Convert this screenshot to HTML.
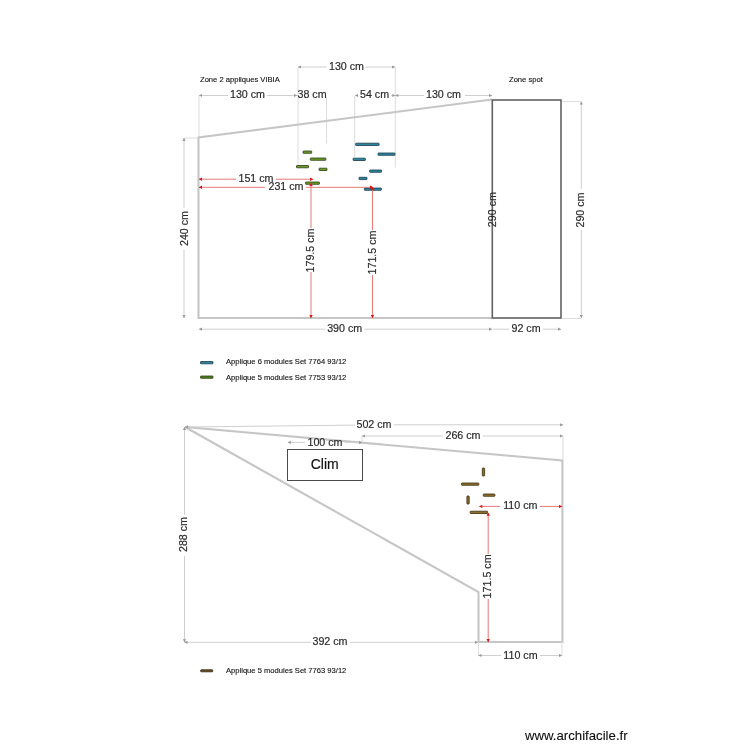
<!DOCTYPE html>
<html><head><meta charset="utf-8">
<style>
html,body{margin:0;padding:0;background:#fff;width:750px;height:750px;overflow:hidden}
svg{display:block;will-change:transform}
text{font-family:"Liberation Sans",sans-serif;fill:#2a2a2a}
.d{font-size:10.7px;stroke:#2a2a2a;stroke-width:0.18}
.s{font-size:7.6px;fill:#111;stroke:#111;stroke-width:0.12}
.wall{stroke:#c6c6c6;stroke-width:2.1;fill:none;stroke-linejoin:miter}
.dim{stroke:#cfcfcf;stroke-width:1;fill:none}
.ext{stroke:#dcdcdc;stroke-width:1;fill:none}
.red{stroke:#e46a6a;stroke-width:0.9;fill:none}
</style></head>
<body>
<svg width="750" height="750" viewBox="0 0 750 750">
<defs>
<marker id="ag" markerWidth="4" markerHeight="4" refX="3" refY="2" orient="auto" markerUnits="userSpaceOnUse"><path d="M0,0.4 L3.2,2 L0,3.6 z" fill="#9a9a9a"/></marker>
<marker id="ags" markerWidth="4" markerHeight="4" refX="0.2" refY="2" orient="auto" markerUnits="userSpaceOnUse"><path d="M3.2,0.4 L0,2 L3.2,3.6 z" fill="#9a9a9a"/></marker>
<marker id="ar" markerWidth="4" markerHeight="4" refX="3" refY="2" orient="auto" markerUnits="userSpaceOnUse"><path d="M0,0.3 L3.2,2 L0,3.7 z" fill="#d81818"/></marker>
<marker id="ars" markerWidth="4" markerHeight="4" refX="0.2" refY="2" orient="auto" markerUnits="userSpaceOnUse"><path d="M3.2,0.3 L0,2 L3.2,3.7 z" fill="#d81818"/></marker>
</defs>

<!-- ===== TOP PLAN ===== -->
<text class="s" x="200" y="81.6">Zone 2 appliques VIBIA</text>
<text class="s" x="509" y="81.6">Zone spot</text>

<!-- extension lines -->
<path class="ext" d="M199,95 V137 M298,67 V167 M326.5,97 V143.5 M354.7,96 V157 M395.3,67 V167.5 M184,138 H199 M562,101.6 H581 M562,318.5 H581"/>

<!-- top dim row 1: 130 cm -->
<path class="dim" d="M298,67 H327" marker-start="url(#ags)"/>
<path class="dim" d="M365,67 H395" marker-end="url(#ag)"/>
<text class="d" x="346.5" y="70" text-anchor="middle">130 cm</text>

<!-- row 2 -->
<path class="dim" d="M199,95.5 H228" marker-start="url(#ags)"/>
<path class="dim" d="M267,95.5 H297" marker-end="url(#ag)"/>
<text class="d" x="247.5" y="97.8" text-anchor="middle">130 cm</text>
<text class="d" x="297.5" y="97.9">38 cm</text>
<path class="dim" d="M355,95.5 H358" marker-start="url(#ags)"/>
<text class="d" x="374.5" y="98.2" text-anchor="middle">54 cm</text>
<path class="dim" d="M391,95.5 H395.3" marker-end="url(#ag)"/>
<path class="dim" d="M395.3,95.5 H424" marker-start="url(#ags)"/>
<path class="dim" d="M465,95.5 H492" marker-end="url(#ag)"/>
<text class="d" x="443.5" y="97.8" text-anchor="middle">130 cm</text>

<!-- walls -->
<path class="wall" d="M492,99.5 L198.5,137.5 V318 H492"/>
<rect x="492.3" y="100" width="68.7" height="218" fill="none" stroke="#626262" stroke-width="1.6"/>

<!-- 240 cm -->
<path class="dim" d="M184,138 V208" marker-start="url(#ags)"/>
<path class="dim" d="M184,250 V318" marker-end="url(#ag)"/>
<text class="d" transform="translate(187.5,228.5) rotate(-90)" text-anchor="middle">240 cm</text>

<!-- 290 cm inside -->
<text class="d" transform="translate(495.6,209.6) rotate(-90)" text-anchor="middle">290 cm</text>
<!-- 290 cm right -->
<path class="dim" d="M581.3,101.6 V189" marker-start="url(#ags)"/>
<path class="dim" d="M581.3,230 V318" marker-end="url(#ag)"/>
<text class="d" transform="translate(584,210) rotate(-90)" text-anchor="middle">290 cm</text>

<!-- 390 cm / 92 cm -->
<path class="dim" d="M199,329.2 H325" marker-start="url(#ags)"/>
<path class="dim" d="M364.5,329.2 H492" marker-end="url(#ag)"/>
<text class="d" x="344.7" y="332.2" text-anchor="middle">390 cm</text>
<path class="dim" d="M493,329.2 H509"/>
<path class="dim" d="M543,329.2 H561" marker-end="url(#ag)"/>
<text class="d" x="526" y="332.4" text-anchor="middle">92 cm</text>

<!-- green lamps -->
<g fill="#6c9a2c" stroke="#2a3f10" stroke-width="0.8">
<rect x="303" y="151" width="8.7" height="2.3" rx="0.5"/>
<rect x="310.3" y="158" width="15.6" height="2.3" rx="0.5"/>
<rect x="296.5" y="165.5" width="12" height="2.3" rx="0.5"/>
<rect x="319" y="168.2" width="8" height="2.3" rx="0.5"/>
<rect x="305.5" y="182" width="14" height="2.3" rx="0.5"/>
</g>
<!-- blue lamps -->
<g fill="#2f88a2" stroke="#173845" stroke-width="0.8">
<rect x="355.7" y="143.2" width="23.4" height="2.3" rx="0.5"/>
<rect x="378" y="153" width="17" height="2.3" rx="0.5"/>
<rect x="353.1" y="158.2" width="12.3" height="2.3" rx="0.5"/>
<rect x="369.6" y="170" width="12" height="2.3" rx="0.5"/>
<rect x="359" y="177.3" width="8" height="2.3" rx="0.5"/>
<rect x="364.4" y="188" width="17" height="2.3" rx="0.5"/>
</g>

<!-- red dims top -->
<path class="red" d="M199,179.2 H236" marker-start="url(#ars)"/>
<path class="red" d="M276,179.2 H313" marker-end="url(#ar)"/>
<text class="d" x="256" y="182.4" text-anchor="middle">151 cm</text>
<path class="red" d="M199,187.3 H265" marker-start="url(#ars)"/>
<path class="red" d="M306,187.3 H373" marker-end="url(#ar)"/>
<text class="d" x="286" y="190.2" text-anchor="middle">231 cm</text>
<path class="red" d="M311,183 V228" marker-start="url(#ars)"/>
<path class="red" d="M311,272 V318" marker-end="url(#ar)"/>
<text class="d" transform="translate(314,250.5) rotate(-90)" text-anchor="middle">179.5 cm</text>
<path class="red" d="M372.5,187 V230" marker-start="url(#ars)"/>
<path class="red" d="M372.5,275 V318" marker-end="url(#ar)"/>
<text class="d" transform="translate(376,252.5) rotate(-90)" text-anchor="middle">171.5 cm</text>

<!-- legend top -->
<g stroke-width="0.8">
<rect x="200.5" y="361.5" width="12.5" height="2.3" rx="0.5" fill="#2f88a2" stroke="#173845"/>
<rect x="200.5" y="376" width="12.5" height="2.3" rx="0.5" fill="#527d22" stroke="#2a3f10"/>
</g>
<text class="s" x="226" y="363.6">Applique 6 modules Set 7764 93/12</text>
<text class="s" x="226" y="379.6">Applique 5 modules Set 7753 93/12</text>

<!-- ===== BOTTOM PLAN ===== -->
<!-- walls -->
<path class="wall" d="M185,427 L562.4,460.5 V642 H478.5 V592 Z"/>
<!-- dims -->
<path class="ext" d="M563,436 V460 M362,436 V442"/>
<path class="dim" d="M185,427 L355,425.1" marker-start="url(#ags)"/>
<path class="dim" d="M394,424.8 H563" marker-end="url(#ag)"/>
<text class="d" x="374" y="427.7" text-anchor="middle">502 cm</text>
<path class="dim" d="M362,436 H443" marker-start="url(#ags)"/>
<path class="dim" d="M483,436 H563" marker-end="url(#ag)"/>
<text class="d" x="463" y="439.3" text-anchor="middle">266 cm</text>
<path class="dim" d="M287.8,442.4 H305" marker-start="url(#ags)"/>
<path class="dim" d="M345,442.4 H362" marker-end="url(#ag)"/>
<text class="d" x="325" y="445.5" text-anchor="middle">100 cm</text>


<!-- clim -->
<rect x="287.5" y="449.5" width="75" height="31" fill="#fff" stroke="#4a4a4a" stroke-width="1"/>
<text x="324.7" y="468.8" text-anchor="middle" style="font-size:14px;fill:#111;stroke:#111;stroke-width:0.15">Clim</text>

<!-- 288 -->
<path class="dim" d="M184.5,427 V515" marker-start="url(#ags)"/>
<path class="dim" d="M184.5,556 V642.3" marker-end="url(#ag)"/>
<text class="d" transform="translate(187.4,534.5) rotate(-90)" text-anchor="middle">288 cm</text>

<!-- 392 -->
<path class="dim" d="M184.5,642.3 H311" marker-start="url(#ags)"/>
<path class="dim" d="M350,642.3 H478" marker-end="url(#ag)"/>
<text class="d" x="330" y="644.8" text-anchor="middle">392 cm</text>
<!-- 110 bottom -->
<path class="ext" d="M478.5,642 V656 M562,642 V656"/>
<path class="dim" d="M478.5,655.5 H501" marker-start="url(#ags)"/>
<path class="dim" d="M540,655.5 H562" marker-end="url(#ag)"/>
<text class="d" x="520.5" y="658.6" text-anchor="middle">110 cm</text>

<!-- brown lamps -->
<g fill="#8d7030" stroke="#3a2c0a" stroke-width="0.8">
<rect x="482.3" y="468" width="2.3" height="8" rx="0.5"/>
<rect x="461.5" y="483" width="17.3" height="2.3" rx="0.5"/>
<rect x="483.3" y="494" width="11.6" height="2.3" rx="0.5"/>
<rect x="466.9" y="496" width="2.3" height="8" rx="0.5"/>
<rect x="470.2" y="511.2" width="17.4" height="2.3" rx="0.5"/>
</g>

<!-- red bottom -->
<path class="red" d="M479.3,506.4 H500" marker-start="url(#ars)"/>
<path class="red" d="M540,506.4 H562" marker-end="url(#ar)"/>
<text class="d" x="520.3" y="508.8" text-anchor="middle">110 cm</text>
<path class="red" d="M488.2,512.8 V554" marker-start="url(#ars)"/>
<path class="red" d="M488.2,599 V642" marker-end="url(#ar)"/>
<text class="d" transform="translate(491,576.4) rotate(-90)" text-anchor="middle">171.5 cm</text>

<!-- legend bottom -->
<rect x="200.7" y="669.8" width="12" height="2" rx="0.5" fill="#6a5224" stroke="#2e220a" stroke-width="0.8"/>
<text class="s" x="226" y="672.7">Applique 5 modules Set 7763 93/12</text>

<text x="525" y="740" style="font-size:13.2px;fill:#111;stroke:#111;stroke-width:0.12">www.archifacile.fr</text>
</svg>
</body></html>
